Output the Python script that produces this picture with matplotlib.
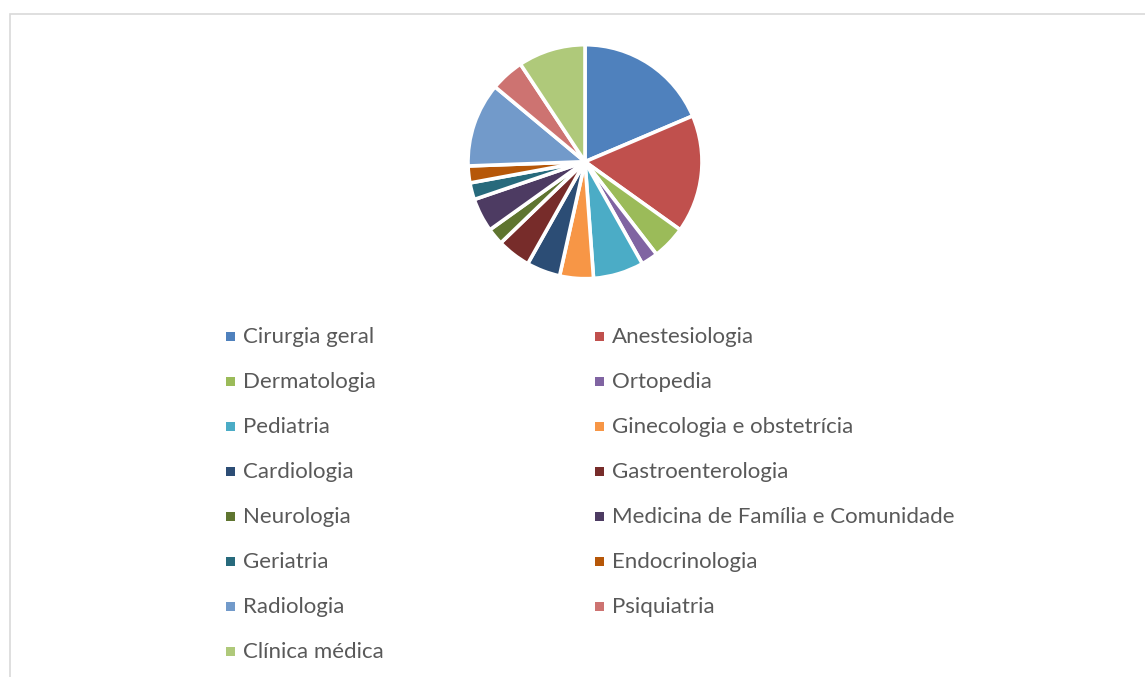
import matplotlib.pyplot as plt
from matplotlib.patches import Rectangle

# --- Data ---
specialties = [
    "Cirurgia geral", "Anestesiologia", "Dermatologia", "Ortopedia",
    "Pediatria", "Ginecologia e obstetrícia", "Cardiologia", "Gastroenterologia",
    "Neurologia", "Medicina de Família e Comunidade", "Geriatria", "Endocrinologia",
    "Radiologia", "Psiquiatria", "Clínica médica",
]
counts = [8, 7, 2, 1, 3, 2, 2, 2, 1, 2, 1, 1, 5, 2, 4]
colors = [
    "#4F81BD", "#C0504D", "#9BBB59", "#8064A2", "#4BACC6", "#F79646",
    "#2C4D75", "#772C2A", "#5F7530", "#4D3B62", "#276A7C", "#B65708",
    "#729ACA", "#CD7371", "#AFC97A",
]

W, H = 1145, 677
fig = plt.figure(figsize=(W / 100, H / 100), dpi=100)
plt.rcParams["font.family"] = ["Lato", "DejaVu Sans"]

# chart frame
fig.patches.append(Rectangle((10 / W, -0.01), 1.2, 1 - 14 / H + 0.01, transform=fig.transFigure,
                             facecolor="none", edgecolor="#D9D9D9", linewidth=1.2))

# pie
cx, cy, r = 585, 161.7, 117
ax = fig.add_axes([(cx - r) / W, 1 - (cy + r) / H, 2 * r / W, 2 * r / H])
ax.pie(counts, colors=colors, startangle=90, counterclock=False, radius=1,
       wedgeprops=dict(edgecolor="white", linewidth=2.6))
ax.set_xlim(-1, 1)
ax.set_ylim(-1, 1)
ax.set_aspect("auto")
ax.axis("off")

# legend (row-wise, two columns)
col_x = [226, 595]
row0, step = 336, 45
for i, (name, c) in enumerate(zip(specialties, colors)):
    row, col = divmod(i, 2)
    x = col_x[col]
    y = row0 + row * step
    fig.patches.append(Rectangle((x / W, 1 - (y + 4.5) / H), 9 / W, 9 / H,
                                 transform=fig.transFigure, facecolor=c, edgecolor="none"))
    fig.text((x + 17) / W, 1 - (y + 1) / H, name, fontsize=16, color="#595959",
             va="center", ha="left")

plt.savefig("out.png", dpi=100)
